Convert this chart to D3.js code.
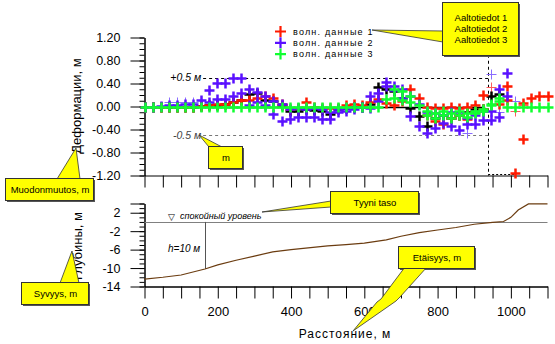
<!DOCTYPE html>
<html><head><meta charset="utf-8">
<script src="https://cdn.jsdelivr.net/npm/d3@7"></script>
<style>
body{margin:0;background:#fff;}
svg{display:block;font-family:"Liberation Sans",Arial,sans-serif;}
</style></head><body>
<svg id="c" width="555" height="344"></svg>
<script>
// ---------- DATA ----------
const distances = [0,22,44,66,88,110,132,154,176,198,220,242,264,286,308,330,352,374,396,418,440,462,484,506,528,550,572,594,616,638,660,682,704,726,748,770,792,814,836,858,880,902,924,946,968,990,1012,1034,1056,1078,1100];

const wave1 = [0,0,0,0,0,0,0,0.01,0.02,0.04,
  0.05,0.08,0.12,0.12,0.15,0.18,0.14,0.05,-0.04,-0.03,
  0.07,0,-0.02,-0.02,-0.03,0.02,0.05,0.02,0.08,0.13,
  0.06,0.03,0.1,0.3,0.15,0,-0.02,-0.02,0,-0.02,
  0,0.02,0.2,null,0.05,0.35,null,0.06,0.15,0.18,
  0.18];
const wave1b = [null,null,null,null,null,null,null,null,null,null,
  null,null,null,null,null,null,null,null,null,null,
  null,null,null,null,null,null,null,null,null,null,
  null,null,null,null,null,-0.14,-0.26,-0.3,-0.2,-0.15,
  -0.22,-0.1,-0.05,null,null,0.12,-1.15,-0.57,null,null,
  null];
const wave2 = [0,0,0.01,0.03,0.03,0.05,0.04,0.12,0.28,0.41,
  0.41,0.49,0.49,0.31,0.26,0.19,0.1,0.04,-0.05,-0.02,
  -0.05,-0.02,-0.05,-0.1,-0.05,-0.03,0,0,0.19,0.24,
  0.43,0.36,0.3,0.18,0.05,-0.1,-0.12,-0.15,-0.1,-0.1,
  -0.2,-0.15,-0.08,-0.08,0.31,0.59,null,null,null,null,
  null];
const wave2b = [null,null,null,null,null,null,null,null,0.08,0.13,
  0.13,0.18,0.24,0.03,0.08,0.03,-0.13,-0.25,-0.22,-0.19,
  -0.18,-0.19,-0.22,-0.22,-0.1,-0.08,-0.05,0,-0.03,0.1,
  0.36,0.28,0.15,-0.17,-0.34,-0.46,-0.37,-0.28,-0.34,-0.4,
  -0.3,-0.31,-0.24,-0.23,-0.19,0.18,null,null,null,null,
  null];
const wave3 = [0,0,0,0,0,0,0,0,0,0,
  0,0,0,0,0,0,0,0,0,0,
  0,0,0,0,0,0,0,0,0,0,
  0.13,0.3,0.27,0.18,0.03,-0.08,-0.11,-0.08,-0.11,-0.14,
  -0.11,-0.08,-0.08,0.02,0.1,0,0,0,0,0,
  0];
const wave3b = [null,null,null,null,null,null,null,null,null,null,
  null,null,null,null,null,null,null,null,null,null,
  null,null,null,null,null,null,null,null,null,null,
  null,0.15,0.12,0.08,null,-0.15,-0.2,-0.15,-0.2,-0.08,
  -0.18,-0.12,-0.05,0.05,0.15,null,null,null,null,null,
  null];
const waveBlack = [0,0,0,0,0,0,0,0.01,0.02,0.03,
  0.05,0.07,0.11,0.22,0.24,0.12,0.1,0.03,-0.08,-0.08,
  -0.05,-0.06,-0.08,-0.13,-0.05,-0.03,0,0,0.05,0.34,
  0.3,0.27,0.15,-0.02,-0.17,-0.34,-0.2,-0.15,-0.2,-0.15,
  -0.1,-0.05,-0.05,0.18,0.21,null,null,null,null,null,
  null];
const waveLightRed = [null,null,null,null,null,null,null,null,null,null,
  null,null,null,null,null,null,null,null,null,null,
  null,null,null,null,null,null,null,null,null,null,
  null,null,null,null,null,null,null,null,null,null,
  null,null,null,0.34,null,null,-0.08,0.03,null,null,
  null];
const waveLightPurple = [null,null,null,0.07,0.07,0.07,0.07,null,null,null,
  null,null,null,null,null,null,null,null,null,null,
  null,null,null,null,-0.07,null,null,null,null,null,
  null,null,null,null,null,null,null,null,null,null,
  -0.46,null,null,0.57,-0.1,null,0.09,null,null,null,
  null];

const legendLabels = ["волн. данные 1","волн. данные 2","волн. данные 3"];

const profileDist  = [0,50,100,165,200,250,300,350,400,460,500,550,600,660,700,750,800,850,900,950,980,1000,1020,1048,1100];
const profileDepth = [-12.4,-12.0,-11.5,-10.2,-9.3,-8.3,-7.4,-6.5,-6.0,-5.5,-5.2,-4.9,-4.6,-3.9,-3.1,-2.3,-1.75,-1.2,-0.5,-0.1,0.1,1.0,2.6,3.9,3.9];

const topTicks = [-1.2,-0.8,-0.4,0,0.4,0.8,1.2];
const bottomTicks = [-14,-10,-6,-2,2];
const distTicks = [0,200,400,600,800,1000];
const thresholds = [0.5,-0.5];
const thresholdRange = [160,938];
const waterLevel = 0;
const depthMarkDist = 165;

// ---------- SCALES ----------
const svg = d3.select("#c");
const x = d3.scaleLinear().domain([0,1100]).range([144.5,547.5]);
const yT = d3.scaleLinear().domain([-1.2,1.2]).range([175.5,37.5]);
const yB = d3.scaleLinear().domain([-14,4]).range([286.5,203.5]);

// ---------- TOP AXES ----------
function styleAxis(g, fs){
  g.attr("font-family",null).attr("font-size",null);
  g.selectAll("text").attr("fill","#000").style("font-size",fs+"px");
  g.selectAll("line,path").attr("stroke","#000");
}
const gTy = svg.append("g").attr("transform","translate(144.5,0)");
gTy.append("g").call(d3.axisLeft(yT).tickValues(d3.range(-12,13,1).map(d=>d/10)).tickSize(5).tickSizeOuter(0).tickFormat(""));
gTy.append("g").call(d3.axisLeft(yT).tickValues(topTicks).tickSize(14).tickSizeOuter(0).tickPadding(10).tickFormat(d=>d.toFixed(2)));
styleAxis(gTy,12.5);

const gTx = svg.append("g").attr("transform","translate(0,175.5)");
gTx.call(d3.axisBottom(x).tickValues(d3.range(0,1101,50)).tickSize(12).tickSizeOuter(0).tickFormat(""));
styleAxis(gTx,12);

svg.append("text").attr("transform","translate(81,106) rotate(-90)").attr("text-anchor","middle")
  .style("font-size","13px").text("Деформации, м");

// threshold lines
const gTh = svg.append("g");
gTh.selectAll("line").data(thresholds).join("line")
  .attr("x1",x(thresholdRange[0])).attr("x2",x(thresholdRange[1]))
  .attr("y1",d=>Math.round(yT(d))+0.5).attr("y2",d=>Math.round(yT(d))+0.5)
  .attr("stroke",d=>d>0?"#000":"#777").attr("stroke-dasharray","3,3");
gTh.selectAll("text").data(thresholds).join("text")
  .attr("x",x(thresholdRange[0])-2).attr("y",d=>yT(d)+3.5).attr("text-anchor","end")
  .attr("fill",d=>d>0?"#000":"#444").style("font-size","10.5px").style("font-style","italic")
  .text(d=>(d>0?"+":"-")+"0.5 м");
// vertical dashed and bottom dotted
svg.append("line").attr("x1",Math.round(x(thresholdRange[1]))+0.5).attr("x2",Math.round(x(thresholdRange[1]))+0.5)
  .attr("y1",yT(0.9)).attr("y2",yT(-1.2)).attr("stroke","#000").attr("stroke-dasharray","3,3");
svg.append("line").attr("x1",x(thresholdRange[1])).attr("x2",x(1010))
  .attr("y1",Math.round(yT(-1.18))+0.5).attr("y2",Math.round(yT(-1.18))+0.5).attr("stroke","#000").attr("stroke-dasharray","2,2");

// zero line
svg.append("line").attr("x1",x(0)).attr("x2",x(930)).attr("y1",Math.round(yT(0))+0.5).attr("y2",Math.round(yT(0))+0.5)
  .attr("stroke","#000").attr("stroke-width",1.3);

// ---------- CROSSES ----------
function crosses(vals,color,half,sw){
  const pts = distances.map((d,i)=>[d,vals[i]]).filter(p=>p[1]!=null);
  svg.append("g").selectAll("path").data(pts).join("path")
    .attr("d",p=>{const cx=Math.round(x(p[0])),cy=Math.round(yT(p[1]));return `M${cx-half},${cy+0.5}H${cx+half+1}M${cx+0.5},${cy-half}V${cy+half+1}`;})
    .attr("stroke",color).attr("stroke-width",sw).attr("fill","none");
}
crosses(waveLightPurple,"#8a6cff",4.5,1);
crosses(waveLightRed,"#ff5a5a",4.5,1);
crosses(waveBlack,"#000",4.5,2.5);
crosses(wave1b,"#ff1a00",4.5,2.5);
crosses(wave1,"#ff1a00",4.5,2.5);
crosses(wave2b,"#5a10ff",4.5,2.5);
crosses(wave2,"#5a10ff",4.5,2.5);
crosses(wave3b,"#10ff30",4.5,2.5);
crosses(wave3,"#10ff30",4.5,2.5);

// legend
const legColors = ["#ff1a00","#5a10ff","#10ff30"];
const leg = svg.append("g");
legendLabels.forEach((t,i)=>{
  const ly = 31+i*11.3;
  leg.append("path").attr("d",`M275,${ly+0.5}H286M280.5,${ly-5}V${ly+6}`).attr("stroke",legColors[i]).attr("stroke-width",2.2);
  leg.append("text").attr("x",293).attr("y",ly+3.5).style("font-size","9px").style("letter-spacing","1.2px").text(t);
});

// ---------- BOTTOM PLOT ----------
const gBy = svg.append("g").attr("transform","translate(144.5,0)");
gBy.append("g").call(d3.axisLeft(yB).tickValues(d3.range(-14,5,1)).tickSize(5).tickSizeOuter(0).tickFormat(""));
gBy.append("g").call(d3.axisLeft(yB).tickValues(bottomTicks.concat([4])).tickSize(14).tickSizeOuter(0).tickPadding(10).tickFormat(d=>d===4?"":String(d)));
styleAxis(gBy,12.5);

const gBx = svg.append("g").attr("transform","translate(0,286.5)");
gBx.call(d3.axisBottom(x).tickValues(d3.range(0,1101,50)).tickSize(12).tickSizeOuter(0).tickFormat(""));
gBx.append("g").call(d3.axisBottom(x).tickValues(distTicks).tickSize(0).tickPadding(20).tickFormat(d=>String(d)));
styleAxis(gBx,13);
gBx.selectAll("g > g > g > .domain").remove();

svg.append("text").attr("transform","translate(82,246) rotate(-90)").attr("text-anchor","middle")
  .style("font-size","13px").text("Глубины, м");
svg.append("text").attr("x",345).attr("y",338).attr("text-anchor","middle")
  .style("font-size","12px").style("letter-spacing","1px").text("Расстояние, м");

// water level
svg.append("line").attr("x1",x(0)).attr("x2",x(1100)).attr("y1",Math.round(yB(waterLevel))+0.5).attr("y2",Math.round(yB(waterLevel))+0.5)
  .attr("stroke","#808080");
// depth marker
const depthAtMark = profileDepth[profileDist.indexOf(depthMarkDist)];
svg.append("line").attr("x1",Math.round(x(depthMarkDist))+0.5).attr("x2",Math.round(x(depthMarkDist))+0.5)
  .attr("y1",yB(waterLevel)).attr("y2",yB(depthAtMark)).attr("stroke","#555");
// profile
svg.append("path").datum(profileDist.map((d,i)=>[d,profileDepth[i]]))
  .attr("d",d3.line().x(d=>x(d[0])).y(d=>yB(d[1])))
  .attr("fill","none").attr("stroke","#6b3c10").attr("stroke-width",1.2);

svg.append("text").attr("x",168).attr("y",220).style("font-size","9px").text("▽");
svg.append("text").attr("x",180).attr("y",219).style("font-size","9px").style("font-style","italic").text("спокойный уровень");
svg.append("text").attr("x",168).attr("y",252).style("font-size","10px").style("font-style","italic").text("h=10 м");

// ---------- CALLOUTS ----------
const callouts = [
  {lines:["Aaltotiedot 1","Aaltotiedot 2","Aaltotiedot 3"], box:[442,2,76,53], ptr:[[372,30],[443,31],[443,42]]},
  {lines:["m"], box:[208,146,34,22], ptr:[[199,135],[209,147],[222,147]]},
  {lines:["Muodonmuutos, m"], box:[5,178,88,22], ptr:[[76,148],[57,179],[80,179]]},
  {lines:["Syvyys, m"], box:[21,282,67,22], ptr:[[72,251],[60,283],[79,283]]},
  {lines:["Tyyni taso"], box:[330,191,88,22], ptr:[[262,212],[331,201],[331,207]]},
  {lines:["Etäisyys, m"], box:[398,246,76,22], ptr:[[353,331],[377,302],[381,299],[405,267],[427,267],[400,297],[396,301]]}
];
const gc = svg.append("g");
callouts.forEach(c=>{
  const [bx,by,bw,bh] = c.box;
  gc.append("rect").attr("x",bx+2).attr("y",by+2).attr("width",bw).attr("height",bh).attr("fill","#555");
  gc.append("polygon").attr("points",c.ptr.map(p=>p.join(",")).join(" "))
    .attr("fill","#ffff00").attr("stroke","#333").attr("stroke-width",0.8);
  gc.append("rect").attr("x",bx+0.5).attr("y",by+0.5).attr("width",bw).attr("height",bh)
    .attr("fill","#ffff00").attr("stroke","#333");
  const n = c.lines.length;
  c.lines.forEach((t,i)=>{
    gc.append("text").attr("x",bx+bw/2+1).attr("y",by+bh/2+3.5+(i-(n-1)/2)*10.7)
      .attr("text-anchor","middle").style("font-size","9.5px").text(t);
  });
});
</script>
</body></html>
